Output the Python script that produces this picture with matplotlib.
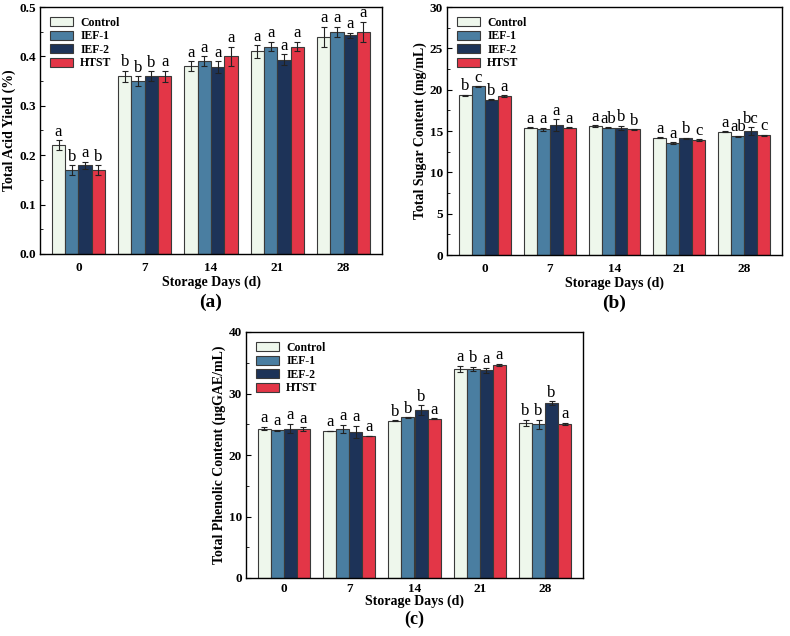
import numpy as np
import matplotlib
matplotlib.use('Agg')
import matplotlib.pyplot as plt
from matplotlib.ticker import MultipleLocator, FormatStrFormatter

plt.rcParams['font.family'] = ['Liberation Serif', 'DejaVu Serif']

days = ['0', '7', '14', '21', '28']
groups = ['Control', 'IEF-1', 'IEF-2', 'HTST']
colors = ['#eef7ec', '#4a7ea1', '#1d3358', '#e33647']

# (a) total acid yield
acid = [[0.22, 0.36, 0.38, 0.41, 0.44],
        [0.17, 0.35, 0.39, 0.42, 0.45],
        [0.18, 0.36, 0.378, 0.393, 0.443],
        [0.17, 0.36, 0.40, 0.42, 0.45]]
acid_err = [[0.01, 0.011, 0.01, 0.013, 0.02],
            [0.01, 0.01, 0.01, 0.01, 0.01],
            [0.007, 0.01, 0.012, 0.011, 0.005],
            [0.01, 0.011, 0.02, 0.01, 0.02]]
acid_lbl = [['a', 'b', 'a', 'a', 'a'],
            ['b', 'b', 'a', 'a', 'a'],
            ['a', 'b', 'a', 'a', 'a'],
            ['b', 'a', 'a', 'a', 'a']]

# (b) total sugar content
sugar = [[19.3, 15.4, 15.6, 14.2, 14.9],
         [20.4, 15.2, 15.4, 13.55, 14.35],
         [18.8, 15.7, 15.4, 14.1, 15.0],
         [19.2, 15.4, 15.2, 13.9, 14.5]]
sugar_err = [[0.08, 0.08, 0.08, 0.05, 0.05],
             [0.05, 0.2, 0.05, 0.1, 0.08],
             [0.08, 0.7, 0.25, 0.08, 0.45],
             [0.1, 0.05, 0.05, 0.1, 0.05]]
sugar_lbl = [['b', 'a', 'a', 'a', 'a'],
             ['c', 'a', 'ab', 'a', 'ab'],
             ['b', 'a', 'b', 'b', 'bc'],
             ['a', 'a', 'b', 'c', 'c']]

# (c) total phenolic content
phen = [[24.3, 23.9, 25.6, 34.0, 25.2],
        [24.0, 24.2, 26.1, 34.0, 25.0],
        [24.3, 23.7, 27.3, 33.8, 28.4],
        [24.2, 23.1, 25.9, 34.6, 25.0]]
phen_err = [[0.3, 0.05, 0.05, 0.5, 0.5],
            [0.1, 0.7, 0.05, 0.3, 0.7],
            [0.8, 1.0, 0.8, 0.4, 0.3],
            [0.3, 0.05, 0.05, 0.2, 0.2]]
phen_lbl = [['a', 'a', 'b', 'a', 'b'],
            ['a', 'a', 'b', 'b', 'b'],
            ['a', 'a', 'b', 'a', 'b'],
            ['a', 'a', 'a', 'a', 'a']]


def draw(ax, vals, errs, lbls, ymax, major, minor, ylabel, tag, pad,
         tag_y, tag_size, xpad, xlpad):
    x = np.arange(len(days))
    w = 0.2
    for i in range(4):
        pos = x + (i - 1.5) * w
        ax.bar(pos, vals[i], w, color=colors[i], edgecolor='#3a3a3a',
               linewidth=0.8, label=groups[i])
        ax.errorbar(pos, vals[i], yerr=errs[i], fmt='none', ecolor='#222222',
                    elinewidth=0.8, capsize=2.5, capthick=0.8)
        for j in range(len(days)):
            ax.text(pos[j], vals[i][j] + errs[i][j] + pad, lbls[i][j],
                    ha='center', va='bottom', fontsize=12)
    ax.set_xlim(-0.58, 4.58)
    ax.set_ylim(0, ymax)
    ax.set_xticks(x)
    ax.set_xticklabels(days)
    ax.yaxis.set_major_locator(MultipleLocator(major))
    ax.yaxis.set_minor_locator(MultipleLocator(minor))
    ax.tick_params(axis='y', which='major', direction='in', length=3.5, width=0.8, pad=3)
    ax.tick_params(axis='y', which='minor', direction='in', length=2, width=0.6)
    ax.tick_params(axis='x', length=0, pad=xpad)
    for s in ax.spines.values():
        s.set_linewidth(1.0)
    ax.set_ylabel(ylabel, fontsize=10, fontweight='bold', labelpad=2)
    ax.set_xlabel('Storage Days (d)', fontsize=10, fontweight='bold', labelpad=xlpad)
    ax.text(0.5, tag_y, tag, transform=ax.transAxes, ha='center', va='center',
            fontsize=tag_size, fontweight='bold')
    ax.legend(loc='upper left', frameon=False, prop={'weight': 'bold', 'size': 8.5},
              handlelength=1.95, handleheight=0.8, labelspacing=0.12,
              handletextpad=0.6, borderaxespad=0.45)


fig = plt.figure(figsize=(7.9, 6.36), dpi=100)
W, H = 790, 636
ax1 = fig.add_axes([40 / W, 1 - 254 / H, 342 / W, 247 / H])
ax2 = fig.add_axes([447 / W, 1 - 255 / H, 335 / W, 248 / H])
ax3 = fig.add_axes([246 / W, 1 - 578 / H, 337 / W, 246 / H])

draw(ax1, acid, acid_err, acid_lbl, 0.5, 0.1, 0.05, 'Total Acid Yield (%)',
     '(a)', 0.001, -0.195, 14, 6, 1)
draw(ax2, sugar, sugar_err, sugar_lbl, 30, 5, 2.5, 'Total Sugar Content (mg/mL)',
     '(b)', 0.05, -0.195, 14, 6, 1)
draw(ax3, phen, phen_err, phen_lbl, 40, 10, 5, 'Total Phenolic Content (μgGAE/mL)',
     '(c)', 0.1, -0.168, 13, 3.5, 0)
ax1.yaxis.set_major_formatter(FormatStrFormatter('%.1f'))
for ax in (ax1, ax2, ax3):
    for t in ax.get_xticklabels() + ax.get_yticklabels():
        t.set_fontweight('bold')
        t.set_fontsize(9.5)

fig.savefig('out.png', dpi=100)
